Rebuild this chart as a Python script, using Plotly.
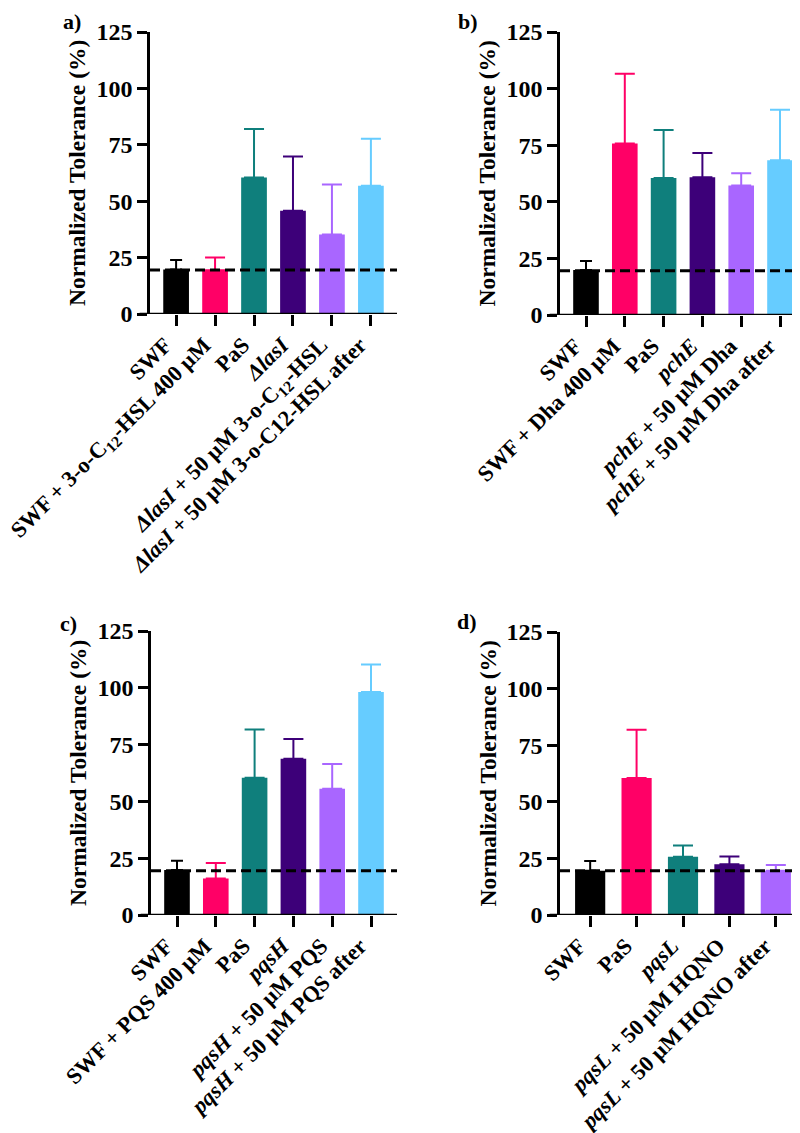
import plotly.graph_objects as go

# ---------------- data ----------------
labels_a = ["SWF", "SWF + 3-o-C<sub>12</sub>-HSL 400 µM", "PaS", "<i>ΔlasI</i>",
            "<i>ΔlasI</i> + 50 µM 3-o-C<sub>12</sub>-HSL", "<i>ΔlasI</i> + 50 µM 3-o-C12-HSL after"]
mean_a = [19.7, 19.4, 60.5, 45.8, 35.2, 56.8]
err_a = [4.2, 5.6, 21.5, 24.0, 22.2, 20.9]

labels_b = ["SWF", "SWF + Dha 400 µM", "PaS", "<i>pchE</i>",
            "<i>pchE</i> + 50 µM Dha", "<i>pchE</i> + 50 µM Dha after"]
mean_b = [19.9, 75.8, 60.5, 60.8, 57.2, 68.4]
err_b = [4.0, 30.8, 21.2, 10.7, 5.4, 22.3]

labels_c = ["SWF", "SWF + PQS 400 µM", "PaS", "<i>pqsH</i>",
            "<i>pqsH</i> + 50 µM PQS", "<i>pqsH</i> + 50 µM PQS after"]
mean_c = [19.8, 16.1, 60.4, 68.8, 55.6, 98.2]
err_c = [4.1, 6.8, 21.2, 8.7, 10.9, 12.1]

labels_d = ["SWF", "PaS", "<i>pqsL</i>", "<i>pqsL</i> + 50 µM HQNO",
            "<i>pqsL</i> + 50 µM HQNO after"]
mean_d = [19.5, 60.5, 25.7, 22.4, 19.5]
err_d = [4.4, 21.3, 5.0, 3.4, 2.6]

baseline = 19.5
yticks = [0, 25, 50, 75, 100, 125]

colors6 = ["#000000", "#FF0066", "#0F7F7C", "#3D0079", "#A966FF", "#66CCFF"]
colors_d = ["#000000", "#FF0066", "#0F7F7C", "#3D0079", "#A966FF"]

FONT = "'Liberation Serif', 'Times New Roman', Times, serif"

panels = [
    dict(labels=labels_a, mean=mean_a, err=err_a, colors=colors6, tag="a)",
         xd=[142/800, 389/800], yd=[1-306/1133, 1-24/1133], lab_xy=(64, 14)),
    dict(labels=labels_b, mean=mean_b, err=err_b, colors=colors6, tag="b)",
         xd=[552/800, 0.9975], yd=[1-307/1133, 1-24/1133], lab_xy=(460, 14)),
    dict(labels=labels_c, mean=mean_c, err=err_c, colors=colors6, tag="c)",
         xd=[143/800, 389/800], yd=[1-907/1133, 1-623/1133], lab_xy=(60, 615)),
    dict(labels=labels_d, mean=mean_d, err=err_d, colors=colors_d, tag="d)",
         xd=[552/800, 0.9975], yd=[1-907/1133, 1-624/1133], lab_xy=(459, 613)),
]

fig = go.Figure()
layout = dict(
    width=800, height=1133, margin=dict(l=0, r=0, t=0, b=0),
    plot_bgcolor="white", paper_bgcolor="white", showlegend=False,
    barmode="overlay", font=dict(family=FONT, color="black"),
    shapes=[], annotations=[],
)

for i, p in enumerate(panels):
    n = len(p["labels"])
    sfx = "" if i == 0 else str(i + 1)
    xref, yref = "x" + sfx, "y" + sfx
    pad = 0.67 if n == 6 else 0.65
    bw = 0.66 if n == 6 else 0.65
    for k in range(n):
        fig.add_trace(go.Bar(
            x=[k], y=[p["mean"][k]], width=bw,
            marker=dict(color=p["colors"][k], line=dict(width=0)),
            error_y=dict(type="data", symmetric=False, array=[p["err"][k]],
                         arrayminus=[0], color=p["colors"][k], thickness=2,
                         width=6 if k == 0 else 10),
            xaxis=xref, yaxis=yref, hoverinfo="skip",
        ))
    layout["xaxis" + sfx] = dict(
        domain=p["xd"], anchor=yref, range=[-pad, n - 1 + pad],
        tickmode="array", tickvals=list(range(n)), ticktext=p["labels"],
        tickangle=-45, ticks="outside", ticklen=11, tickwidth=2.5,
        tickcolor="black", showline=False, showgrid=False, zeroline=False,
        tickfont=dict(family=FONT, size=22.5, color="black", weight="bold"),
        ticklabeloverflow="allow", ticklabelshift=-11, ticklabelstandoff=-3,
        automargin=False, fixedrange=True,
    )
    layout["yaxis" + sfx] = dict(
        domain=p["yd"], anchor=xref, range=[0, 125],
        tickmode="array", tickvals=yticks, ticktext=[str(v) for v in yticks],
        ticks="outside", ticklen=10, tickwidth=2.5, tickcolor="black",
        showline=True, linewidth=2.5, linecolor="black",
        showgrid=False, zeroline=False,
        tickfont=dict(family=FONT, size=24, color="black", weight="bold"),
        automargin=False, fixedrange=True,
    )
    # x axis baseline (extends slightly left of the y axis)
    layout["shapes"].append(dict(
        type="line", xref=xref + " domain", yref=yref,
        x0=-0.042, x1=1, y0=0, y1=0,
        line=dict(color="black", width=2.5), layer="above"))
    # dashed reference line
    layout["shapes"].append(dict(
        type="line", xref=xref + " domain", yref=yref,
        x0=0, x1=1, y0=baseline, y1=baseline,
        line=dict(color="black", width=3, dash="10px,5px"), layer="above"))
    # y-axis title
    ymid = (p["yd"][0] + p["yd"][1]) / 2
    layout["annotations"].append(dict(
        text="Normalized Tolerance (%)", xref="paper", yref="paper",
        x=p["xd"][0] - 73/800, y=ymid, xanchor="center", yanchor="middle",
        textangle=-90, showarrow=False,
        font=dict(family=FONT, size=23.5, color="black", weight="bold")))
    # panel tag
    lx, ly = p["lab_xy"]
    layout["annotations"].append(dict(
        text=p["tag"], xref="paper", yref="paper",
        x=lx/800, y=1-ly/1133, xanchor="center", yanchor="middle",
        showarrow=False,
        font=dict(family=FONT, size=22, color="black", weight="bold")))

fig.update_layout(**layout)
fig.write_html("out.html")
